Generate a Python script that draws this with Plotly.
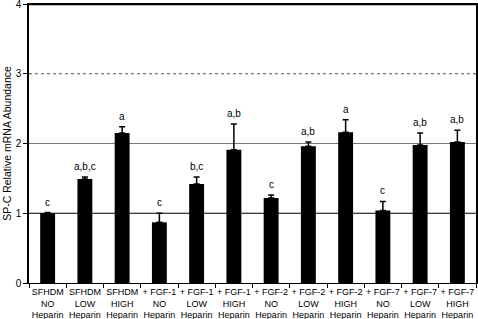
import plotly.graph_objects as go

categories = ["SFHDM<br>NO<br>Heparin", "SFHDM<br>LOW<br>Heparin", "SFHDM<br>HIGH<br>Heparin",
              "+ FGF-1<br>NO<br>Heparin", "+ FGF-1<br>LOW<br>Heparin", "+ FGF-1<br>HIGH<br>Heparin",
              "+ FGF-2<br>NO<br>Heparin", "+ FGF-2<br>LOW<br>Heparin", "+ FGF-2<br>HIGH<br>Heparin",
              "+ FGF-7<br>NO<br>Heparin", "+ FGF-7<br>LOW<br>Heparin", "+ FGF-7<br>HIGH<br>Heparin"]
values = [1.00, 1.49, 2.15, 0.87, 1.42, 1.91, 1.22, 1.96, 2.16, 1.04, 1.98, 2.02]
errors = [0.01, 0.03, 0.09, 0.13, 0.10, 0.37, 0.04, 0.06, 0.18, 0.13, 0.17, 0.17]
letters = ["c", "a,b,c", "a", "c", "b,c", "a,b", "c", "a,b", "a", "c", "a,b", "a,b"]
y_ticks = [0, 1, 2, 3, 4]

fig = go.Figure()
fig.add_trace(go.Bar(
    x=categories, y=values, width=0.4,
    marker=dict(color="black", line=dict(width=0)),
    error_y=dict(type="data", array=errors, arrayminus=[0]*len(errors), symmetric=False,
                 color="black", thickness=1.5, width=3),
))

for c, v, e, t in zip(categories, values, errors, letters):
    fig.add_annotation(x=c, y=v + e, text=t, showarrow=False, yanchor="bottom", yshift=3,
                       font=dict(family="Arial, Liberation Sans", size=10, color="black"))

fig.add_hline(y=1, line=dict(color="black", width=1), layer="below")
fig.add_hline(y=2, line=dict(color="#777777", width=1), layer="below")
fig.add_hline(y=3, line=dict(color="#555555", width=1, dash="dot"), layer="below")
fig.add_hline(y=4, line=dict(color="black", width=2.5), layer="above")

fig.update_layout(
    width=478, height=319,
    margin=dict(l=29, r=2, t=4, b=36),
    paper_bgcolor="white", plot_bgcolor="white",
    showlegend=False, bargap=0.6,
    font=dict(family="Arial, Liberation Sans", size=10, color="black"),
)
fig.update_xaxes(
    showline=True, linecolor="black", linewidth=1, mirror=True,
    ticks="outside", tickson="boundaries", ticklen=4, tickcolor="black",
    tickfont=dict(size=9), tickangle=0, automargin=False, showgrid=False,
)
fig.update_yaxes(
    range=[0, 4], tickvals=y_ticks, showline=True, linecolor="black", linewidth=1.5, mirror=True,
    ticks="outside", ticklen=4, tickcolor="black", showgrid=False, zeroline=False,
    tickfont=dict(size=10), automargin=False, ticklabeloverflow="allow",
    title=dict(text="SP-C Relative mRNA Abundance", font=dict(size=10.5), standoff=2),
)

fig.write_html("out.html", config={"displayModeBar": False},
               post_script="document.body.style.margin='0';document.body.style.overflow='hidden';")
